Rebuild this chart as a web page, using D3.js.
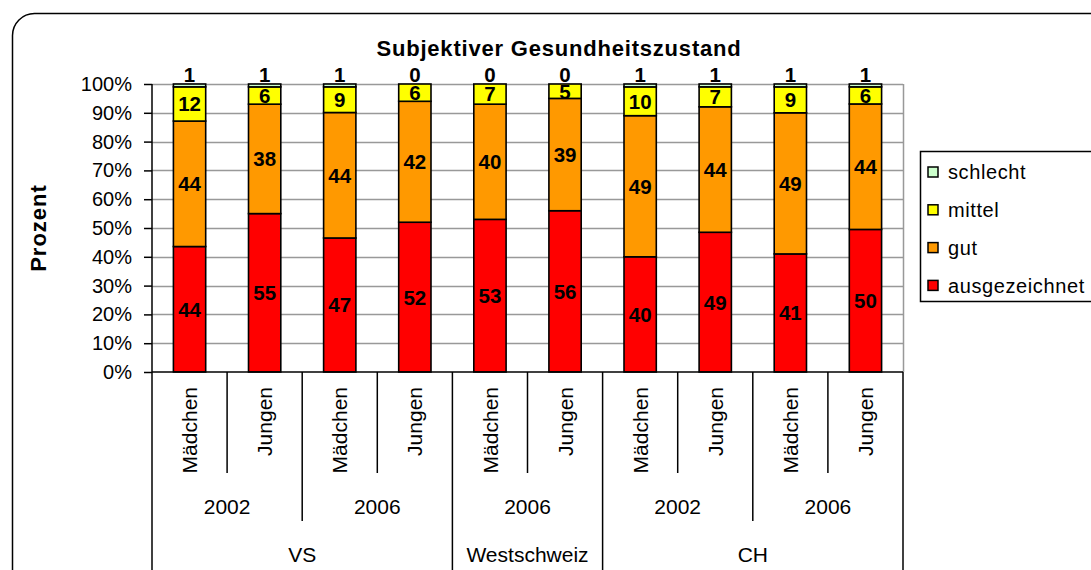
<!DOCTYPE html>
<html>
<head>
<meta charset="utf-8">
<script src="https://cdn.jsdelivr.net/npm/d3@7"></script>
<style>
  body { margin: 0; background: #fff; }
  text { font-family: "Liberation Sans", Arial, sans-serif; }
</style>
</head>
<body>
<div id="chart"></div>
<script>
var width = 1091;
var height = 570;

// data
var sexes = ["Mädchen", "Jungen", "Mädchen", "Jungen", "Mädchen", "Jungen", "Mädchen", "Jungen", "Mädchen", "Jungen"];
var years = ["2002", "2006", "2006", "2002", "2006"];
var regions = ["VS", "Westschweiz", "CH"];
var regionSpans = [2, 1, 2]; // number of year groups per region
var ausgezeichnet = [44, 55, 47, 52, 53, 56, 40, 49, 41, 50];
var gut = [44, 38, 44, 42, 40, 39, 49, 44, 49, 44];
var mittel = [12, 6, 9, 6, 7, 5, 10, 7, 9, 6];
var schlecht = [1, 1, 1, 0, 0, 0, 1, 1, 1, 1];
var yTicks = [0, 0.1, 0.2, 0.3, 0.4, 0.5, 0.6, 0.7, 0.8, 0.9, 1];

var keys = ["ausgezeichnet", "gut", "mittel", "schlecht"];
var colors = ["#ff0000", "#ff9900", "#ffff00", "#ccffcc"];

var data = sexes.map(function(s, i) {
  return { id: i, ausgezeichnet: ausgezeichnet[i], gut: gut[i], mittel: mittel[i], schlecht: schlecht[i] };
});

var svg = d3.select("#chart").append("svg")
    .attr("width", width)
    .attr("height", height);

// outer rounded frame
svg.append("rect")
    .attr("x", 12.5).attr("y", 13.5)
    .attr("width", 1200).attr("height", 700)
    .attr("rx", 22)
    .attr("fill", "none")
    .attr("stroke", "#000")
    .attr("stroke-width", 1.5);

var margin = {top: 84, left: 152},
    innerWidth = 751,
    innerHeight = 288;

var g = svg.append("g").attr("transform", "translate(" + margin.left + "," + margin.top + ")");

var x = d3.scaleBand().domain(d3.range(sexes.length)).range([0, innerWidth]).padding(0);
var barW = x.bandwidth() * 0.43;
var y = d3.scaleLinear().domain([0, 1]).range([innerHeight, 0]);
var z = d3.scaleOrdinal().domain(keys).range(colors);

var series = d3.stack().keys(keys).offset(d3.stackOffsetExpand)(data);

// grid
g.append("g").selectAll("line")
  .data(yTicks.slice(1))
  .enter().append("line")
    .attr("x1", 0).attr("x2", innerWidth)
    .attr("y1", function(d) { return Math.round(y(d)) + 0.5; })
    .attr("y2", function(d) { return Math.round(y(d)) + 0.5; })
    .attr("stroke", "#999")
    .attr("stroke-width", 1.5);

g.append("line")
    .attr("x1", innerWidth + 0.5).attr("x2", innerWidth + 0.5)
    .attr("y1", 0).attr("y2", innerHeight)
    .attr("stroke", "#999").attr("stroke-width", 1.5);

// bars
var layer = g.append("g").selectAll("g")
  .data(series)
  .enter().append("g")
    .attr("fill", function(d) { return z(d.key); });

layer.selectAll("rect")
  .data(function(d) { return d; })
  .enter().append("rect")
    .attr("x", function(d, i) { return x(i) + (x.bandwidth() - barW) / 2; })
    .attr("y", function(d) { return y(d[1]); })
    .attr("width", barW)
    .attr("height", function(d) { return y(d[0]) - y(d[1]); })
    .attr("stroke", "#000")
    .attr("stroke-width", 1.6);

// value labels
series.forEach(function(s) {
  g.append("g").selectAll("text")
    .data(s)
    .enter().append("text")
      .attr("x", function(d, i) { return x(i) + x.bandwidth() / 2; })
      .attr("y", function(d) {
        if (s.key === "schlecht") return y(d[1]) - 2;
        return (y(d[0]) + y(d[1])) / 2;
      })
      .attr("dy", s.key === "schlecht" ? "0" : "0.36em")
      .attr("text-anchor", "middle")
      .attr("font-size", "20.5px")
      .attr("font-weight", "bold")
      .attr("fill", "#000")
      .text(function(d) { return d.data[s.key]; });
});

// y axis
var yAxis = g.append("g")
    .call(d3.axisLeft(y).tickValues(yTicks).tickFormat(d3.format(".0%")).tickSize(8).tickPadding(12));
yAxis.select(".domain").attr("d", "M0,0V" + innerHeight).attr("stroke", "#000").attr("stroke-width", 1.5);
yAxis.selectAll(".tick line").attr("stroke", "#000").attr("stroke-width", 1.5);
yAxis.selectAll("text")
    .attr("font-size", "20px")
    .attr("fill", "#000")
    .attr("font-family", "Liberation Sans, Arial, sans-serif");

// x axis (multi-level)
var xa = g.append("g").attr("transform", "translate(0," + innerHeight + ")");
xa.append("line")
    .attr("x1", 0).attr("x2", innerWidth)
    .attr("y1", 0).attr("y2", 0)
    .attr("stroke", "#000").attr("stroke-width", 1.5);

xa.selectAll("text.sex")
  .data(sexes)
  .enter().append("text")
    .attr("class", "sex")
    .attr("transform", function(d, i) {
      return "translate(" + (x(i) + x.bandwidth() / 2) + ",15) rotate(-90)";
    })
    .attr("dy", "0.36em")
    .attr("text-anchor", "end")
    .attr("font-size", "21px")
    .text(function(d) { return d; });

// boundaries between categories
var regEnds = [0];
var acc = 0;
regionSpans.forEach(function(s) { acc += s * 2; regEnds.push(acc); });
var levels = d3.range(sexes.length + 1).map(function(i) {
  var h = 101;
  if (i % 2 === 0) h = 149;
  if (regEnds.indexOf(i) >= 0) h = 198;
  return { i: i, h: h };
});

xa.selectAll("line.sep")
  .data(levels)
  .enter().append("line")
    .attr("class", "sep")
    .attr("x1", function(d) { return d.i === sexes.length ? innerWidth : x(d.i); })
    .attr("x2", function(d) { return d.i === sexes.length ? innerWidth : x(d.i); })
    .attr("y1", 0)
    .attr("y2", function(d) { return d.h; })
    .attr("stroke", "#000").attr("stroke-width", 1.5);

xa.selectAll("text.year")
  .data(years)
  .enter().append("text")
    .attr("class", "year")
    .attr("x", function(d, i) { return x(i * 2) + x.bandwidth(); })
    .attr("y", 142)
    .attr("text-anchor", "middle")
    .attr("font-size", "21px")
    .text(function(d) { return d; });

xa.selectAll("text.region")
  .data(regions)
  .enter().append("text")
    .attr("class", "region")
    .attr("x", function(d, i) {
      var s = d3.sum(regionSpans.slice(0, i)) * 2;
      var n = regionSpans[i] * 2;
      return x(s) + n * x.bandwidth() / 2;
    })
    .attr("y", 190)
    .attr("text-anchor", "middle")
    .attr("font-size", "21px")
    .text(function(d) { return d; });

// title
svg.append("text")
    .attr("x", 559)
    .attr("y", 56)
    .attr("text-anchor", "middle")
    .attr("font-size", "22px")
    .attr("font-weight", "bold")
    .attr("letter-spacing", "0.8px")
    .text("Subjektiver Gesundheitszustand");

// y label
svg.append("text")
    .attr("transform", "translate(46," + (margin.top + innerHeight / 2) + ") rotate(-90)")
    .attr("text-anchor", "middle")
    .attr("font-size", "22px")
    .attr("font-weight", "bold")
    .attr("letter-spacing", "1px")
    .text("Prozent");

// legend
svg.append("rect")
    .attr("x", 920.5).attr("y", 151.5)
    .attr("width", 300).attr("height", 150)
    .attr("fill", "#fff")
    .attr("stroke", "#000").attr("stroke-width", 1.5);

var legend = svg.append("g")
  .selectAll("g")
  .data(keys.slice().reverse())
  .enter().append("g")
    .attr("transform", function(d, i) { return "translate(0," + (172 + i * 37.8) + ")"; });

legend.append("rect")
    .attr("x", 928).attr("y", -5)
    .attr("width", 10).attr("height", 10)
    .attr("fill", z)
    .attr("stroke", "#000").attr("stroke-width", 1.5);

legend.append("text")
    .attr("x", 948)
    .attr("dy", "0.36em")
    .attr("font-size", "20px")
    .attr("letter-spacing", "0.6px")
    .text(function(d) { return d; });
</script>
</body>
</html>
